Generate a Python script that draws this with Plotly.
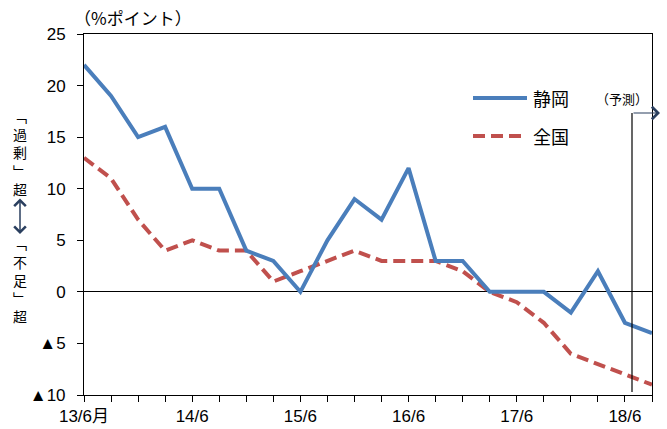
import plotly.graph_objects as go

# Quarterly survey periods (year/month)
periods = ["13/6", "13/9", "13/12", "14/3", "14/6", "14/9", "14/12", "15/3",
           "15/6", "15/9", "15/12", "16/3", "16/6", "16/9", "16/12", "17/3",
           "17/6", "17/9", "17/12", "18/3", "18/6", "18/9"]

# Labels shown under the axis (only every June)
period_labels = {"13/6": "13/6月", "14/6": "14/6", "15/6": "15/6",
                 "16/6": "16/6", "17/6": "17/6", "18/6": "18/6"}

# Employment excess/shortage DI (% points)
shizuoka = [22, 19, 15, 16, 10, 10, 4, 3, 0, 5, 9, 7, 12, 3, 3, 0, 0, 0, -2, 2, -3, -4]
national = [13, 11, 7, 4, 5, 4, 4, 1, 2, 3, 4, 3, 3, 3, 2, 0, -1, -3, -6, -7, -8, -9]

y_ticks = [-10, -5, 0, 5, 10, 15, 20, 25]
y_tick_labels = ["▲10", "▲5", "0", "5", "10", "15", "20", "25"]

series_names = ["静岡", "全国"]
BLUE = "#4A7EBB"
RED = "#C0504D"
DASH = "12px,6px"

LATIN = "Liberation Sans, Noto Sans CJK JP, sans-serif"
CJK = "Noto Sans CJK JP, sans-serif"

# plot-area geometry in pixels (used to place free text)
W, H = 667, 429
L, R, T, B = 84, 15, 34, 34
PW, PH = W - L - R, H - T - B


def px(x):
    return (x - L) / PW


def py(y):
    return (H - B - y) / PH


fig = go.Figure()
fig.add_trace(go.Scatter(x=periods, y=national, mode="lines", name=series_names[1],
                         line=dict(color=RED, width=4, dash=DASH)))
fig.add_trace(go.Scatter(x=periods, y=shizuoka, mode="lines", name=series_names[0],
                         line=dict(color=BLUE, width=4)))

fig.update_layout(
    width=W, height=H,
    margin=dict(l=L, r=R, t=T, b=B, autoexpand=False),
    paper_bgcolor="white", plot_bgcolor="white",
    showlegend=False,
    font=dict(family=LATIN, color="black"),
)

fig.update_xaxes(
    type="category", range=[0, len(periods) - 1], automargin=False,
    tickvals=periods, ticktext=[period_labels.get(p, "") for p in periods],
    ticks="outside", ticklen=6, tickcolor="black", tickwidth=1,
    showline=True, linecolor="black", linewidth=1, mirror=True,
    showgrid=False, tickfont=dict(size=17, family=LATIN),
)
fig.update_yaxes(
    range=[-10, 25], tickvals=y_ticks, ticktext=y_tick_labels, automargin=False,
    ticks="outside", ticklen=6, tickcolor="black", tickwidth=1,
    showline=True, linecolor="black", linewidth=1, mirror=True,
    showgrid=False, zeroline=True, zerolinecolor="black", zerolinewidth=1,
    tickfont=dict(size=17, family=LATIN), ticklabelstandoff=8,
)

ann = []
shapes = []

# unit label
ann.append(dict(xref="paper", yref="paper", x=px(72), y=py(18), xanchor="left",
                yanchor="middle", text="（%ポイント）", showarrow=False,
                font=dict(size=17, family=CJK)))

# vertical axis caption: stacked characters, two empty rows for the arrow
caption_rows = ["﹁", "過", "剰", "﹂", "超", "", "", "﹁", "不", "足", "﹂", "超"]
ann.append(dict(xref="paper", yref="paper", x=px(20), y=py(216), xanchor="center",
                yanchor="middle", text="<br>".join(r if r else " " for r in caption_rows),
                showarrow=False, align="center", font=dict(size=14, family=CJK)))
ann.append(dict(xref="paper", yref="paper", x=px(20), y=py(234), text="",
                showarrow=True, arrowside="end+start", arrowhead=4, startarrowhead=4,
                arrowwidth=1.5, arrowsize=1.5, startarrowsize=1.5,
                ax=0, ay=-37, axref="pixel", ayref="pixel"))

# legend
shapes.append(dict(type="line", xref="paper", yref="paper", x0=px(473), x1=px(527),
                   y0=py(98), y1=py(98), line=dict(color=BLUE, width=4)))
shapes.append(dict(type="line", xref="paper", yref="paper", x0=px(473), x1=px(521),
                   y0=py(136), y1=py(136), line=dict(color=RED, width=4, dash=DASH)))
ann.append(dict(xref="paper", yref="paper", x=px(531), y=py(98), xanchor="left",
                yanchor="middle", text=series_names[0], showarrow=False,
                font=dict(size=18, family=CJK)))
ann.append(dict(xref="paper", yref="paper", x=px(531), y=py(136), xanchor="left",
                yanchor="middle", text=series_names[1], showarrow=False,
                font=dict(size=18, family=CJK)))

# forecast marker
shapes.append(dict(type="line", xref="paper", yref="paper", x0=px(632), x1=px(632),
                   y0=py(392), y1=py(113), line=dict(color="black", width=1.2)))
ann.append(dict(xref="paper", yref="paper", x=px(660), y=py(113), text="",
                showarrow=True, arrowhead=4, arrowwidth=1.2, arrowsize=2,
                ax=-28, ay=0, axref="pixel", ayref="pixel"))
ann.append(dict(xref="paper", yref="paper", x=px(622), y=py(99), xanchor="center",
                yanchor="middle", text="（予測）", showarrow=False,
                font=dict(size=13, family=CJK)))

fig.update_layout(annotations=ann, shapes=shapes)
fig.write_html("out.html")
